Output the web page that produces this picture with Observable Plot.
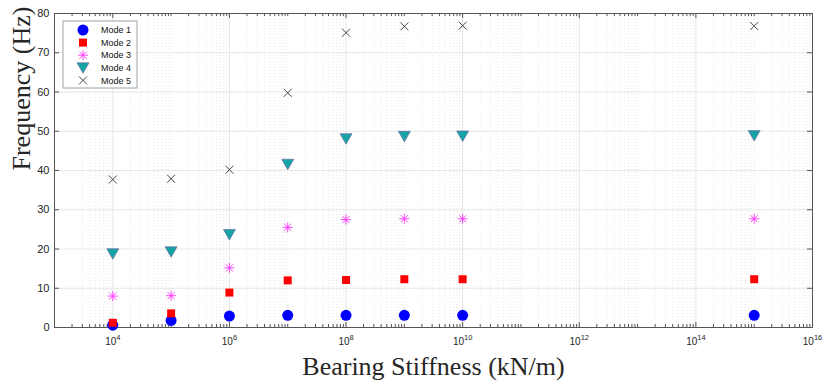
<!DOCTYPE html>
<html><head><meta charset="utf-8">
<script src="https://cdn.jsdelivr.net/npm/d3@7"></script>
<script src="https://cdn.jsdelivr.net/npm/@observablehq/plot@0.6"></script>
<style>body{margin:0;background:#fff}</style>
</head><body><div id="chart"></div>
<script>
// ---- data ----
const stiffness = [1e4, 1e5, 1e6, 1e7, 1e8, 1e9, 1e10, 1e15];
const mode1 = [0.6, 1.8, 2.9, 3.1, 3.1, 3.1, 3.1, 3.1];
const mode2 = [1.2, 3.6, 8.9, 12.0, 12.1, 12.3, 12.3, 12.3];
const mode3 = [8.0, 8.1, 15.2, 25.5, 27.5, 27.7, 27.7, 27.7];
const mode4 = [18.8, 19.3, 23.7, 41.6, 48.1, 48.7, 48.8, 48.9];
const mode5 = [37.7, 37.9, 40.2, 59.8, 75.1, 76.7, 76.9, 76.8];
const modeNames = ["Mode 1", "Mode 2", "Mode 3", "Mode 4", "Mode 5"];
const yTicks = [0, 10, 20, 30, 40, 50, 60, 70, 80];
const xLabelExponents = [4, 6, 8, 10, 12, 14, 16];
const xDomain = [1e3, 1e16];

const modeValues = [mode1, mode2, mode3, mode4, mode5];
const rows = modeNames.flatMap((m, i) => stiffness.map((x, j) => ({mode: m, x, y: modeValues[i][j]})));

// ---- symbols ----
const symDown = {draw(c) { c.moveTo(-6, -5); c.lineTo(6, -5); c.lineTo(0, 5.5); c.closePath(); }};
const symStar = {draw(c) {
  const r = 5, d = r * Math.SQRT1_2;
  c.moveTo(-r, 0); c.lineTo(r, 0); c.moveTo(0, -r); c.lineTo(0, r);
  c.moveTo(-d, -d); c.lineTo(d, d); c.moveTo(-d, d); c.lineTo(d, -d);
}};
const symTimes = {draw(c) { const r = 4; c.moveTo(-r, -r); c.lineTo(r, r); c.moveTo(-r, r); c.lineTo(r, -r); }};
const symSquare = {draw(c) { c.rect(-4, -4, 8, 8); }};
const symCircle = {draw(c) { c.moveTo(5.5, 0); c.arc(0, 0, 5.5, 0, 2 * Math.PI); }};

const styles = [
  {symbol: symCircle, fill: "#0000ff", stroke: "none"},
  {symbol: symSquare, fill: "#ff0000", stroke: "none"},
  {symbol: symStar, fill: "none", stroke: "#ff33ff", strokeWidth: 0.9},
  {symbol: symDown, fill: "#14a4a6", stroke: "#6b5a9c", strokeWidth: 0.6},
  {symbol: symTimes, fill: "none", stroke: "#333333", strokeWidth: 0.9}
];

// ---- ticks/grids ----
const evenDecades = xLabelExponents.map(k => Math.pow(10, k));
const minorX = d3.range(3, 16).flatMap(k => d3.range(1, 10).map(m => m * Math.pow(10, k)))
  .filter(v => !evenDecades.includes(v));

const W = 826, H = 381, mL = 54, mR = 14, mT = 13, mB = 54;
const fw = W - mL - mR, fh = H - mT - mB;
const axisColor = "#555";

const marks = [
  Plot.ruleX(minorX, {stroke: "#e4e4e4", strokeDasharray: "1,2", strokeWidth: 0.8}),
  Plot.ruleX(evenDecades, {stroke: "#e6e6e6"}),
  Plot.ruleY(yTicks, {stroke: "#e6e6e6"}),
  // inward ticks bottom/top
  Plot.ruleX(evenDecades, {stroke: axisColor, insetTop: fh - 5}),
  Plot.ruleX(evenDecades, {stroke: axisColor, insetBottom: fh - 5}),
  Plot.ruleX(minorX, {stroke: axisColor, insetTop: fh - 3}),
  Plot.ruleX(minorX, {stroke: axisColor, insetBottom: fh - 3}),
  Plot.ruleY(yTicks, {stroke: axisColor, insetRight: fw - 5}),
  Plot.ruleY(yTicks, {stroke: axisColor, insetLeft: fw - 5}),
  Plot.frame({stroke: axisColor}),
  // tick labels
  Plot.text(yTicks, {y: d => d, frameAnchor: "left", dx: -5, textAnchor: "end", fontSize: 11, fill: "#262626", text: d => String(d)}),
  Plot.text(evenDecades, {x: d => d, frameAnchor: "bottom", lineAnchor: "bottom", dy: 17, fontSize: 10, fill: "#262626",
    text: d => "10^" + Math.round(Math.log10(d))}),
  // axis titles
  Plot.text(["Bearing Stiffness (kN/m)"], {frameAnchor: "bottom", lineAnchor: "bottom", dy: 47, fontSize: 26,
    fontFamily: "Liberation Serif, Times New Roman, serif", fill: "#262626"}),
  Plot.text(["Frequency (Hz)"], {frameAnchor: "left", rotate: -90, dx: -33, fontSize: 26,
    fontFamily: "Liberation Serif, Times New Roman, serif", fill: "#262626"}),
  ...modeNames.map((m, i) => Plot.dot(rows.filter(r => r.mode === m), {x: "x", y: "y", r: 5, ...styles[i]}))
];

const chart = Plot.plot({
  width: W, height: H, marginLeft: mL, marginRight: mR, marginTop: mT, marginBottom: mB,
  style: {fontFamily: "Liberation Sans, Arial, sans-serif", background: "#fff"},
  x: {type: "log", domain: xDomain, axis: null},
  y: {domain: [0, 80], axis: null},
  marks
});
document.getElementById("chart").appendChild(chart);

// superscripts on x tick labels
d3.select(chart).selectAll("text").each(function() {
  const t = this.textContent;
  const m = /^10\^(\d+)$/.exec(t);
  if (!m) return;
  const s = d3.select(this);
  s.text(null);
  s.append("tspan").text("10");
  s.append("tspan").attr("dy", "-0.55em").attr("font-size", 7.5).text(m[1]);
});

// legend
const svg = d3.select(chart);
const lg = svg.append("g").attr("transform", "translate(63,21)");
lg.append("rect").attr("width", 74).attr("height", 67).attr("fill", "#fff").attr("stroke", "#8a8a8a").attr("stroke-width", 0.8);
modeNames.forEach((m, i) => {
  const y = 9 + i * 12.6;
  const st = styles[i];
  lg.append("path").attr("transform", `translate(20,${y})`)
    .attr("d", d3.symbol(st.symbol)())
    .attr("fill", st.fill).attr("stroke", st.stroke).attr("stroke-width", st.strokeWidth || 1);
  lg.append("text").attr("x", 38).attr("y", y).attr("dy", "0.35em").attr("text-anchor", "start")
    .attr("font-size", 9).attr("fill", "#111").text(m);
});
</script>
</body></html>
